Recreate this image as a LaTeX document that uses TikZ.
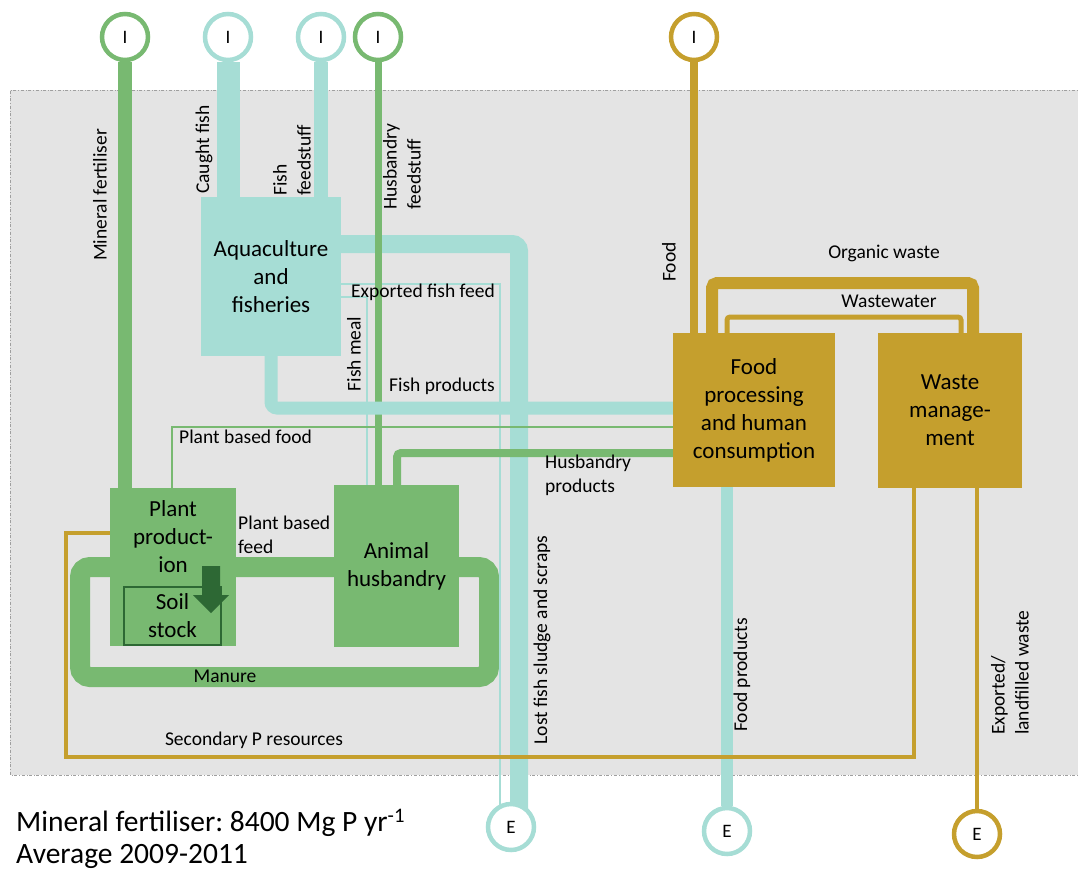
\documentclass[tikz,border=0pt]{standalone}
\usepackage{fontspec}
\setmainfont{Carlito}
\usetikzlibrary{calc}

\definecolor{pgreen}{RGB}{120,185,113}
\definecolor{pteal}{RGB}{166,221,213}
\definecolor{pgold}{RGB}{197,159,45}
\definecolor{pdark}{RGB}{45,104,52}
\definecolor{pbg}{RGB}{228,228,228}

\newcommand{\bxfont}{\fontsize{23}{28}\selectfont}
\newcommand{\lblfont}{\fontsize{19.5}{24}\selectfont}

\pgfdeclarelayer{bg}
\pgfdeclarelayer{flows}
\pgfsetlayers{bg,flows,main}

\frenchspacing
\begin{document}
\begin{tikzpicture}[x=1pt,y=-1pt,
  box/.style={rectangle, fill=#1, inner sep=0pt, align=center, font=\bxfont},
  circ/.style={circle, draw=#1, fill=white, line width=4.5, minimum size=46, inner sep=0pt, font=\fontsize{19}{22}\selectfont},
  lbl/.style={inner sep=0pt, align=left, font=\lblfont},
  vlbl/.style={lbl, rotate=90},
  gflow/.style={draw=pgreen, line width=#1},
  tflow/.style={draw=pteal, line width=#1},
  yflow/.style={draw=pgold, line width=#1}]

  \useasboundingbox (0,0) rectangle (1078,870);

  % system boundary
  \begin{pgfonlayer}{bg}
    \fill[pbg] (10,90) rectangle (1082,775);
    \draw[gray!75, dash dot, line width=1] (1082,90) -- (10,90) -- (10,775) -- (1082,775);
  \end{pgfonlayer}

  % processes
  \node[box=pteal, minimum width=140, minimum height=159] (aqua) at (271,276.5) {Aquaculture\\and\\fisheries};
  \node[box=pgreen, minimum width=126, minimum height=158] (plant) at (173,567) {};
  \node[box=pgreen, minimum width=125, minimum height=162] (animal) at (396.5,566) {Animal\\husbandry};
  \node[box=pgold, minimum width=162, minimum height=154] (food) at (754,410) {Food\\processing\\and human\\consumption};
  \node[box=pgold, minimum width=144, minimum height=155] (waste) at (950,410.5) {Waste\\manage-\\ment};

  \node[box=pgreen, font=\bxfont] (plantlbl) at (173,536.5) {Plant\\product-\\ion};
  \node[box=pgreen, draw=pdark, line width=2, minimum width=97, minimum height=58] (soil) at (172.5,616) {Soil\\stock};
  \fill[pdark] (202,566) -- (220,566) -- (220,595) -- (229,595) -- (211,613) -- (193,595) -- (202,595) -- cycle;

  % imports and exports
  \node[circ=pgreen] (iMin) at (125,37) {I};
  \node[circ=pteal] (iFish) at (228,37) {I};
  \node[circ=pteal] (iFeed) at (321,37) {I};
  \node[circ=pgreen] (iHus) at (378,37) {I};
  \node[circ=pgold] (iFood) at (694,37) {I};
  \node[circ=pteal] (eLost) at (511,827) {E};
  \node[circ=pteal] (eFood) at (727,831) {E};
  \node[circ=pgold] (eWaste) at (977,834) {E};

  % bends
  \coordinate (lostTurn) at (519,244);
  \coordinate (expTurn) at (500,284);
  \coordinate (mealTurn) at (367,297);
  \coordinate (prodTurn) at (271,408);
  \coordinate (pfoodTurn) at (172,427);
  \coordinate (hprodTurn) at (397,453);
  \coordinate (orgL) at (712,283);
  \coordinate (orgR) at (973,283);
  \coordinate (wwL) at (727,317);
  \coordinate (wwR) at (961,317);
  \coordinate (secR) at (914,757);
  \coordinate (secL) at (66,757);
  \coordinate (secT) at (66,533);
  \coordinate (loopA) at (80,567);
  \coordinate (loopB) at (489,677);

  \begin{pgfonlayer}{flows}
    \draw[gflow=20, rounded corners=10] (loopA) rectangle (loopB);
    \draw[gflow=14] (iMin) -- (iMin |- plant.north);
    \draw[tflow=23] (iFish) -- (iFish |- aqua.north);
    \draw[tflow=14] (iFeed) -- (iFeed |- aqua.north);
    \draw[yflow=8] (iFood) -- (iFood |- food.north);
    \draw[tflow=18, rounded corners=7] (aqua.east |- lostTurn) -- (lostTurn) -- (lostTurn |- eLost);
    \draw[tflow=1.5] (aqua.east |- expTurn) -- (expTurn) -- (expTurn |- eLost);
    \draw[tflow=1.5] (aqua.east |- mealTurn) -- (mealTurn) -- (mealTurn |- animal.north);
    \draw[gflow=7] (iHus) -- (iHus |- animal.north);
    \draw[tflow=13, rounded corners=6] (prodTurn |- aqua.south) -- (prodTurn) -- (prodTurn -| food.west);
    \draw[gflow=1.5] (pfoodTurn |- plant.north) -- (pfoodTurn) -- (pfoodTurn -| food.west);
    \draw[gflow=8, rounded corners=4] (hprodTurn |- animal.north) -- (hprodTurn) -- (hprodTurn -| food.west);
    \draw[tflow=12] (eFood |- food.south) -- (eFood);
    \draw[yflow=12, rounded corners=5] (orgL |- food.north) -- (orgL) -- (orgR) -- (orgR |- waste.north);
    \draw[yflow=5, rounded corners=3] (wwL |- food.north) -- (wwL) -- (wwR) -- (wwR |- waste.north);
    \draw[yflow=4] (eWaste |- waste.south) -- (eWaste);
    \draw[yflow=3.5] (secR |- waste.south) -- (secR) -- (secL) -- (secT) -- (secT -| plant.west);
  \end{pgfonlayer}

  % flow labels
  \node[vlbl] (lMin) at (100,195) {Mineral fertiliser};
  \node[vlbl, anchor=west] (lFish) at (204,194) {Caught fish};
  \node[vlbl, anchor=west] (lFeed) at (292,196) {Fish\\feedstuff};
  \node[vlbl, anchor=west] (lHus) at (402,210) {Husbandry\\feedstuff};
  \node[vlbl] (lFood) at (669,262) {Food};
  \node[lbl] (lOrg) at (884,253) {Organic waste};
  \node[lbl] (lWw) at (889,301) {Wastewater};
  \node[lbl, anchor=west] (lExp) at (351,292) {Exported fish feed};
  \node[vlbl] (lMeal) at (354,354) {Fish meal};
  \node[lbl, anchor=west] (lProd) at (389,386) {Fish products};
  \node[lbl, anchor=west] (lPfood) at (179,437) {Plant based food};
  \node[lbl, anchor=north west] (lHprod) at (545,455) {Husbandry\\products};
  \node[lbl, anchor=north west] (lPfeed) at (238,516) {Plant based\\feed};
  \node[lbl] (lMan) at (225,676) {Manure};
  \node[lbl] (lSec) at (254,740) {Secondary P resources};
  \node[vlbl] (lLost) at (542,640) {Lost fish sludge and scraps};
  \node[vlbl] (lFprod) at (742,675) {Food products};
  \node[vlbl, anchor=west] (lExw) at (1010,735) {Exported/\\landfilled waste};

  \node[anchor=north west, align=left, inner sep=0pt, font=\fontsize{29.5}{32}\selectfont] (cap) at (16,809) {Mineral fertiliser: 8400 Mg P yr\textsuperscript{-1}\\Average 2009-2011};
\end{tikzpicture}
\end{document}
